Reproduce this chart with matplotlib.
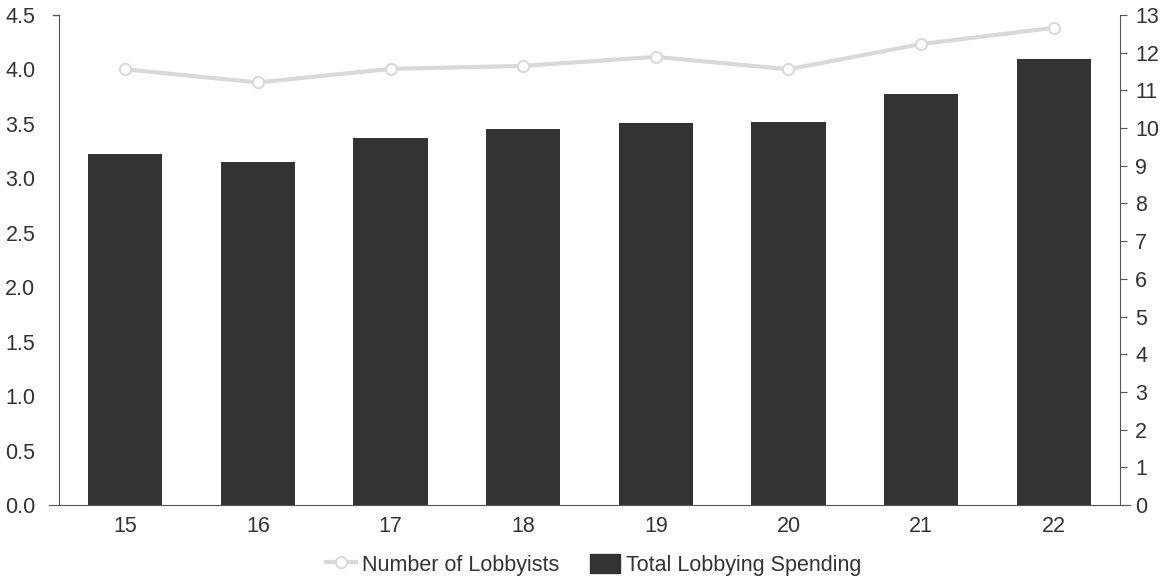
import matplotlib
matplotlib.use("Agg")
import matplotlib.pyplot as plt
from matplotlib.lines import Line2D
from matplotlib.patches import Patch

plt.rcParams['font.family'] = ['Liberation Sans', 'DejaVu Sans']

years = ['15', '16', '17', '18', '19', '20', '21', '22']
spending = [3.22, 3.15, 3.37, 3.45, 3.51, 3.52, 3.77, 4.10]
lobbyists = [11.56, 11.21, 11.57, 11.65, 11.89, 11.56, 12.23, 12.66]

bar_color = '#333333'
line_color = '#d9d9d9'
axis_color = '#555555'
text_color = '#333333'
fs = 15.5

fig = plt.figure(figsize=(11.69, 5.79), dpi=100)
ax = fig.add_axes([49 / 1169, 74 / 579, 1081 / 1169, 490 / 579])

x = list(range(len(years)))
ax.bar(x, spending, width=0.56, color=bar_color, zorder=2)
ax.set_xlim(-0.575, 7.575)
ax.set_ylim(0, 4.5)
ax.set_yticks([i * 0.5 for i in range(10)])
ax.set_yticklabels(['%.1f' % (i * 0.5) for i in range(10)])
ax.set_xticks(x)
ax.set_xticklabels(years)

ax2 = ax.twinx()
ax2.plot(x, lobbyists, color=line_color, lw=3, marker='o', ms=8,
         mfc='white', mec=line_color, mew=1.5, zorder=3)
ax2.set_ylim(0, 13)
ax2.set_yticks(range(14))

for a in (ax, ax2):
    for s in a.spines.values():
        s.set_visible(False)
ax.spines['bottom'].set_visible(True)
ax.spines['bottom'].set_color(axis_color)
ax.spines['left'].set_visible(True)
ax.spines['left'].set_color(axis_color)
ax.spines['left'].set_position(('data', -0.5))
ax2.spines['right'].set_visible(True)
ax2.spines['right'].set_color(axis_color)
ax2.spines['right'].set_position(('data', 7.5))

# small cap at the top of the left axis
ax.plot([-0.545, -0.5], [4.5, 4.5], color=axis_color, lw=1, clip_on=False)

ax.tick_params(axis='x', length=0, labelsize=fs, colors=text_color, pad=8)
ax.tick_params(axis='y', length=0, labelsize=fs, colors=text_color, pad=17)
ax2.tick_params(axis='y', length=5, labelsize=fs, colors=text_color, pad=6)
ax2.tick_params(axis='y', color=axis_color)

handles = [
    Line2D([0], [0], color=line_color, lw=3, marker='o', ms=8,
           mfc='white', mec=line_color, mew=1.5),
    Patch(facecolor=bar_color, edgecolor=bar_color),
]
fig.legend(handles, ['Number of Lobbyists', 'Total Lobbying Spending'],
           loc='lower center', bbox_to_anchor=(0.508, -0.028), ncol=2,
           frameon=False, fontsize=fs, handlelength=1.4,
           handleheight=1.0, columnspacing=1.4, handletextpad=0.3,
           labelcolor=text_color)

fig.savefig('out.png', dpi=100)
